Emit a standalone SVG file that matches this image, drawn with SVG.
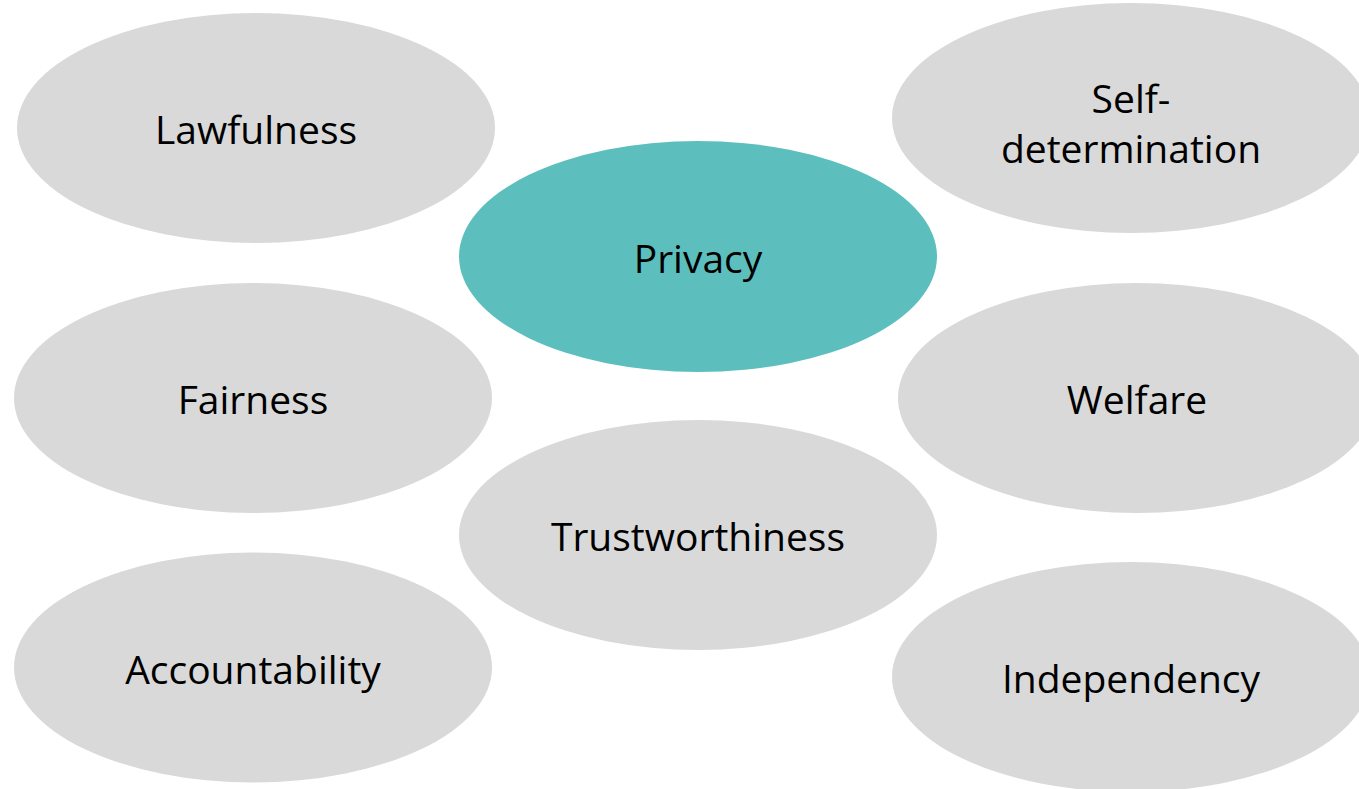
<svg xmlns="http://www.w3.org/2000/svg" width="1359" height="789" viewBox="0 0 1359 789">
  <style>
    .bubble { fill: #D9D9D9; }
    .core { fill: #5CBFBD; }
    .label { font-family: "Open Sans", "Liberation Sans", sans-serif; font-size: 39px; fill: #000000; text-anchor: middle; }
  </style>
  <rect width="1359" height="789" fill="#FFFFFF"/>
  <g id="connectors"/>
  <g id="node-lawfulness">
    <ellipse class="bubble" cx="256" cy="128" rx="239" ry="115"/>
    <text class="label" x="256" y="144">Lawfulness</text>
  </g>
  <g id="node-self-determination">
    <ellipse class="bubble" cx="1131" cy="118" rx="239" ry="115"/>
    <text class="label" x="1131" y="113">Self-</text>
    <text class="label" x="1131" y="163">determination</text>
  </g>
  <g id="node-privacy">
    <ellipse class="core" cx="698" cy="256.5" rx="239" ry="115.5"/>
    <text class="label" x="698" y="273">Privacy</text>
  </g>
  <g id="node-fairness">
    <ellipse class="bubble" cx="253" cy="398" rx="239" ry="115"/>
    <text class="label" x="253" y="414">Fairness</text>
  </g>
  <g id="node-welfare">
    <ellipse class="bubble" cx="1137" cy="398" rx="239" ry="115"/>
    <text class="label" x="1137" y="414">Welfare</text>
  </g>
  <g id="node-trustworthiness">
    <ellipse class="bubble" cx="698" cy="535" rx="239" ry="115"/>
    <text class="label" x="698" y="551">Trustworthiness</text>
  </g>
  <g id="node-accountability">
    <ellipse class="bubble" cx="253" cy="667.5" rx="239" ry="115"/>
    <text class="label" x="253" y="684">Accountability</text>
  </g>
  <g id="node-independency">
    <ellipse class="bubble" cx="1131" cy="677" rx="239" ry="115"/>
    <text class="label" x="1131" y="693">Independency</text>
  </g>
</svg>
